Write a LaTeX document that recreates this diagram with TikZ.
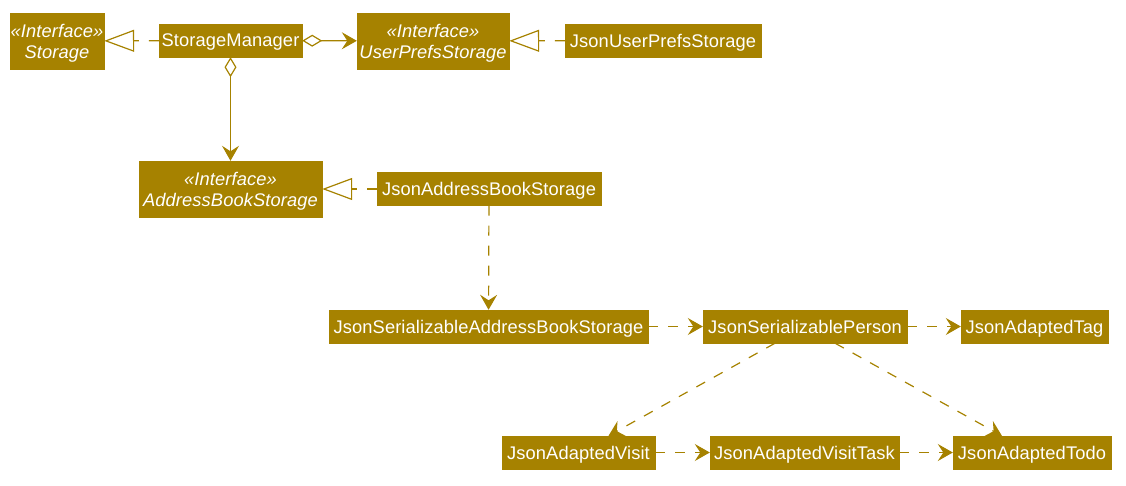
\documentclass[tikz,border=0pt]{standalone}
\usepackage{fontspec}
\setmainfont[LetterSpace=0.6]{Liberation Sans}
\usepackage{tikz}
\usetikzlibrary{arrows.meta}
\definecolor{umlgold}{RGB}{166,130,0}

\begin{document}
\begin{tikzpicture}[x=1pt,y=-1pt,
  cls/.style={fill=umlgold,draw=umlgold,text=white,inner xsep=2pt,inner ysep=0pt,
    text depth=0pt,minimum height=33pt,font=\fontsize{18.3}{21}\selectfont},
  iface/.style={cls,inner xsep=0pt,minimum height=56pt,align=center,font=\fontsize{18.3}{21}\selectfont\itshape},
  realize/.style={umlgold,line width=1.2pt,dash pattern=on 10pt off 10pt,
    -{Triangle[open,length=30pt,width=22pt]}},
  aggr/.style={umlgold,line width=1.2pt,
    {Diamond[open,length=20pt,width=12pt]}-{Stealth[length=15pt,width=17pt,inset=5.5pt]}},
  dep/.style={umlgold,line width=1.2pt,dash pattern=on 10pt off 10pt,
    -{Stealth[length=15pt,width=17pt,inset=5.5pt]}}]
  \useasboundingbox (0,0) rectangle (1126,485);

  % storage interfaces
  \node[iface,minimum width=94pt]  (stor) at (57,41)    {«Interface»\\Storage};
  \node[cls,minimum width=143pt]   (mgr)  at (230.5,40.5) {StorageManager};
  \node[iface,minimum width=152pt] (ups)  at (433,41)   {«Interface»\\UserPrefsStorage};
  \node[cls,minimum width=196pt]   (jups) at (663,40.5) {JsonUserPrefsStorage};
  \node[iface,minimum width=183pt] (abs)  at (230.5,189) {«Interface»\\AddressBookStorage};
  \node[cls,minimum width=224pt]   (jabs) at (489,189)  {JsonAddressBookStorage};

  % json classes
  \node[cls,minimum width=319pt] (jsabs) at (488.5,326.5) {JsonSerializableAddressBookStorage};
  \node[cls,minimum width=204pt] (jsp)   at (805,326.5)   {JsonSerializablePerson};
  \node[cls,minimum width=147pt] (tag)   at (1034.5,326.5) {JsonAdaptedTag};
  \node[cls,minimum width=153pt] (visit) at (578.5,452.5) {JsonAdaptedVisit};
  \node[cls,minimum width=189pt] (vtask) at (804.5,452.5) {JsonAdaptedVisitTask};
  \node[cls,minimum width=158pt] (todo)  at (1032,452.5)  {JsonAdaptedTodo};

  \draw[realize] (mgr) -- (stor);
  \draw[aggr] (mgr) -- (ups);
  \draw[realize] (jups) -- (ups);
  \draw[aggr] (mgr) -- (abs);
  \draw[realize] (jabs) -- (abs);
  \draw[dep] (jabs) -- (jsabs);
  \draw[dep] (jsabs) -- (jsp);
  \draw[dep] (jsp) -- (tag);
  \draw[dep] (jsp) -- (visit);
  \draw[dep] (jsp) -- (todo);
  \draw[dep] (visit) -- (vtask);
  \draw[dep] (vtask) -- (todo);
\end{tikzpicture}
\end{document}
